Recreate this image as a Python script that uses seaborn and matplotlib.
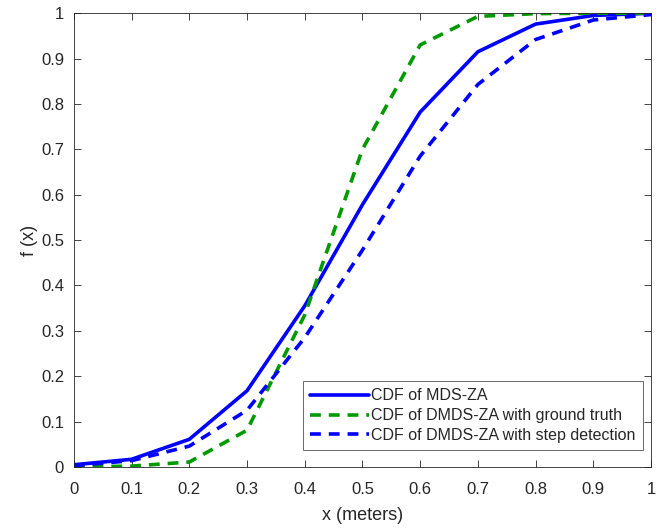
import numpy as np
import pandas as pd
import matplotlib
matplotlib.use("Agg")
import matplotlib.pyplot as plt
import seaborn as sns

# error values (meters)
x_vals = [0.0, 0.1, 0.2, 0.3, 0.4, 0.5, 0.6, 0.7, 0.8, 0.9, 1.0]

# CDF values
cdf_mds_za = [0.005, 0.017, 0.061, 0.168, 0.355, 0.578, 0.782, 0.915, 0.976, 0.995, 1.0]
cdf_dmds_truth = [0.0, 0.002, 0.011, 0.081, 0.335, 0.70, 0.93, 0.993, 0.999, 1.0, 1.0]
cdf_dmds_step = [0.003, 0.014, 0.046, 0.125, 0.285, 0.478, 0.685, 0.843, 0.942, 0.985, 0.997]

labels = ["CDF of MDS-ZA",
          "CDF of DMDS-ZA with ground truth",
          "CDF of DMDS-ZA with step detection"]

tick_labels = ["0", "0.1", "0.2", "0.3", "0.4", "0.5", "0.6", "0.7", "0.8", "0.9", "1"]


def build_frame():
    parts = []
    for lab, vals in zip(labels, [cdf_mds_za, cdf_dmds_truth, cdf_dmds_step]):
        parts.append(pd.DataFrame({"x": x_vals, "f": vals, "series": lab}))
    return pd.concat(parts, ignore_index=True)


def main():
    sns.set_style("ticks")
    plt.rcParams["font.family"] = ["Liberation Sans", "DejaVu Sans"]
    plt.rcParams["xtick.direction"] = "in"
    plt.rcParams["ytick.direction"] = "in"

    df = build_frame()

    fig = plt.figure(figsize=(6.65, 5.28), dpi=100)
    ax = fig.add_axes([0.111, 0.1155, 0.868, 0.8595])

    colors = {labels[0]: "#0000ff", labels[1]: "#009a00", labels[2]: "#0000ff"}
    dashes = {labels[0]: "", labels[1]: (3, 2.2), labels[2]: (3, 2.2)}
    sns.lineplot(data=df, x="x", y="f", hue="series", style="series",
                 palette=colors, dashes=dashes, hue_order=labels,
                 style_order=labels, linewidth=2.6, ax=ax)

    ax.set_xlim(0, 1)
    ax.set_ylim(0, 1)
    ax.set_xticks(np.arange(0, 1.01, 0.1))
    ax.set_yticks(np.arange(0, 1.01, 0.1))
    ax.set_xticklabels(tick_labels)
    ax.set_yticklabels(tick_labels)
    ax.tick_params(labelsize=12, colors="#262626", length=5, width=0.6,
                   top=True, right=True)
    ax.tick_params(axis="x", pad=11)
    ax.tick_params(axis="y", pad=7)
    for side in ["top", "right", "bottom", "left"]:
        ax.spines[side].set_visible(True)
        ax.spines[side].set_color("#262626")
        ax.spines[side].set_linewidth(0.6)

    ax.set_xlabel("x (meters)", fontsize=13, color="#262626", labelpad=7)
    ax.set_ylabel("f (x)", fontsize=13, color="#262626", labelpad=2)

    leg = ax.legend(loc="lower right", bbox_to_anchor=(0.986, 0.037),
                    fontsize=11.5, frameon=True, fancybox=False,
                    handlelength=3.7, handletextpad=0.15, borderpad=0.45,
                    labelspacing=0.3, borderaxespad=0)
    leg.get_frame().set_edgecolor("#262626")
    leg.get_frame().set_linewidth(0.6)

    fig.savefig("out.png", dpi=100)


if __name__ == "__main__":
    main()
